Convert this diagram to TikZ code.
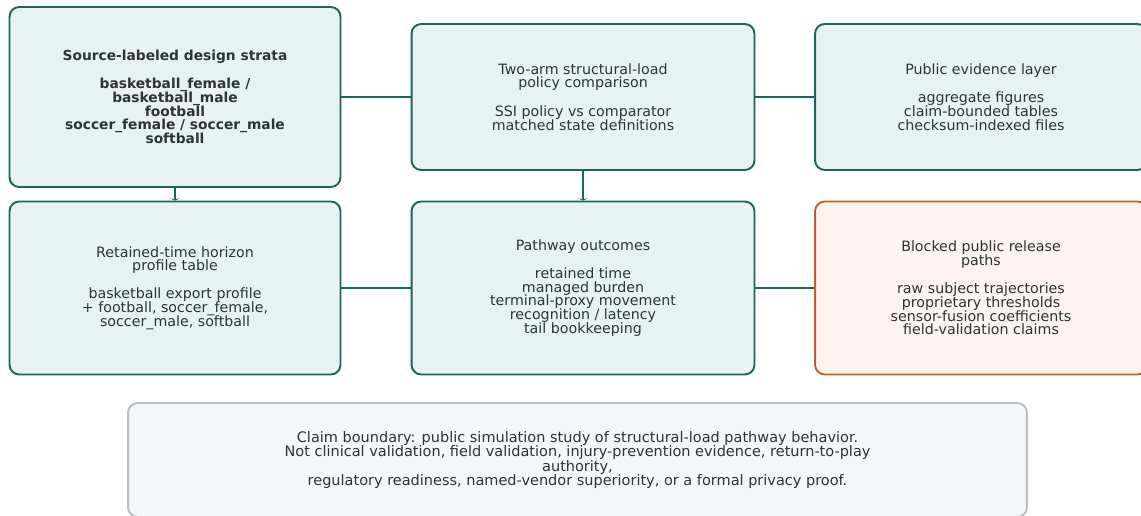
\documentclass[tikz,border=0pt]{standalone}
\usepackage{fontspec}
\setmainfont{DejaVu Sans}
\usepackage{xcolor}
\usetikzlibrary{arrows.meta}

\definecolor{tealline}{HTML}{17675B}
\definecolor{tealfill}{HTML}{E8F3F1}
\definecolor{rustline}{HTML}{C0602F}
\definecolor{rustfill}{HTML}{FEF3EE}
\definecolor{greyline}{HTML}{B7BFC3}
\definecolor{greyfill}{HTML}{F4F6F7}
\definecolor{inktext}{HTML}{2D3436}
\newcommand\tightlines{\lineskiplimit=-5pt\relax}

\begin{document}
\begin{tikzpicture}[x=0.02cm, y=-0.02cm,
    every node/.style={align=center, text=inktext,
        font=\fontsize{8.1}{7.85}\selectfont\tightlines},
    stage/.style={draw=tealline, fill=tealfill, line width=1.1pt, rounded corners=5.5pt},
    blocked/.style={draw=rustline, fill=rustfill, line width=1.1pt, rounded corners=5.5pt},
    boundary/.style={draw=greyline, fill=greyfill, line width=1.1pt, rounded corners=5.5pt,
        font=\fontsize{8.25}{8.1}\selectfont\tightlines},
    link/.style={draw=tealline, line width=1.1pt}]
    \useasboundingbox (0,0) rectangle (1141,516);

    % top row
    \node[stage, minimum width=6.62cm, minimum height=3.6cm,
          font=\fontsize{7.85}{7.85}\selectfont\tightlines\bfseries] (strata) at (175,97)
        {Source-labeled design strata\\[8pt]
         basketball\_female /\\ basketball\_male\\ football\\
         soccer\_female / soccer\_male\\ softball};
    \node[stage, minimum width=6.86cm, minimum height=2.92cm] (policy) at (583,97)
        {Two-arm structural-load\\ policy comparison\\[8.5pt]
         SSI policy vs comparator\\ matched state definitions};
    \node[stage, minimum width=6.64cm, minimum height=2.92cm] (evidence) at (981,97)
        {Public evidence layer\\[8.5pt]
         aggregate figures\\ claim-bounded tables\\ checksum-indexed files};

    % bottom row
    \node[stage, minimum width=6.62cm, minimum height=3.46cm] (horizon) at (175,288)
        {Retained-time horizon\\ profile table\\[8pt]
         basketball export profile\\ + football, soccer\_female,\\ soccer\_male, softball};
    \node[stage, minimum width=6.86cm, minimum height=3.46cm] (outcomes) at (583,288)
        {Pathway outcomes\\[8pt]
         retained time\\ managed burden\\ terminal-proxy movement\\
         recognition / latency\\ tail bookkeeping};
    \node[blocked, minimum width=6.64cm, minimum height=3.46cm] (release) at (981,288)
        {Blocked public release\\ paths\\[8pt]
         raw subject trajectories\\ proprietary thresholds\\
         sensor-fusion coefficients\\ field-validation claims};

    % claim note
    \node[boundary, minimum width=17.98cm, minimum height=2.28cm] (claim) at (577.5,460)
        {Claim boundary: public simulation study of structural-load pathway behavior.\\
         Not clinical validation, field validation, injury-prevention evidence, return-to-play\\
         authority,\\
         regulatory readiness, named-vendor superiority, or a formal privacy proof.};

    \draw[link] (strata) -- (policy);
    \draw[link] (policy) -- (evidence);
    \draw[link] (horizon) -- (outcomes);
    \draw[link] (outcomes) -- (release);
    \draw[link, -{Stealth[length=1.2pt, width=5pt]}] (strata) -- (horizon);
    \draw[link, -{Stealth[length=1.2pt, width=5pt]}] (policy) -- (outcomes);
\end{tikzpicture}
\end{document}
